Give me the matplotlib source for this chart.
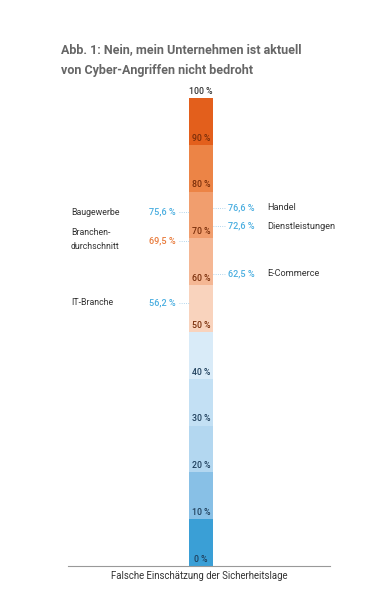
import matplotlib.pyplot as plt

plt.rcParams['font.family'] = ['Roboto', 'DejaVu Sans']

# Balkensegmente (Grenzen in Prozent) und Farben
seg_bottoms = [0, 10, 20, 30, 40, 50, 60, 70, 80, 90]
seg_colors = ['#3a9fd6', '#88c0e6', '#b3d7f0', '#c3e0f4', '#d9ebf8',
              '#f9d3bd', '#f5b794', '#f19e6e', '#ec8446', '#e35f1c']
tick_values = [0, 10, 20, 30, 40, 50, 60, 70, 80, 90, 100]

# Branchenwerte links / rechts
left_labels = ['Baugewerbe', 'Branchen-\ndurchschnitt', 'IT-Branche']
left_values = [75.6, 69.5, 56.2]
left_colors = ['#4aaee0', '#e87a3a', '#4aaee0']
right_labels = ['Handel', 'Dienstleistungen', 'E-Commerce']
right_values = [76.6, 72.6, 62.5]

fig = plt.figure(figsize=(3.82, 5.93), dpi=100)
ax = fig.add_axes([68 / 382, 27 / 593, 262 / 382, 468 / 593])
ax.set_xlim(68, 330)
ax.set_ylim(0, 100)

bar_x, bar_w = 201, 24
for b, c in zip(seg_bottoms, seg_colors):
    ax.bar(bar_x, 10, bottom=b, width=bar_w, color=c, linewidth=0)

for v in tick_values:
    col = '#7a2e0a' if v >= 50 else '#1f3f5c'
    if v == 100:
        col = '#333333'
    ax.text(bar_x, v + 0.45, f'{v} %', ha='center', va='bottom',
            fontsize=6.3, color=col, fontweight='medium', clip_on=False)

for lab, v, c in zip(left_labels, left_values, left_colors):
    ax.plot([179, bar_x - bar_w / 2], [v, v], ls=':', lw=0.6, color='#9cc9e6')
    ax.text(176, v, f'{v:.1f} %'.replace('.', ','), ha='right', va='center',
            fontsize=6.6, color=c, fontweight='medium')
    ax.text(71, v + (0.2 if '\n' in lab else 0), lab, ha='left', va='center',
            fontsize=6.3, color='#333333', linespacing=1.75)

for lab, v in zip(right_labels, right_values):
    ax.plot([bar_x + bar_w / 2, 226], [v, v], ls=':', lw=0.6, color='#9cc9e6')
    ax.text(228, v, f'{v:.1f} %'.replace('.', ','), ha='left', va='center',
            fontsize=6.6, color='#4aaee0', fontweight='medium')
    ax.text(267, v, lab, ha='left', va='center', fontsize=6.6, color='#333333')

for s in ['top', 'left', 'right']:
    ax.spines[s].set_visible(False)
ax.spines['bottom'].set_color('#999999')
ax.spines['bottom'].set_linewidth(0.8)
ax.set_xticks([])
ax.set_yticks([])

ax.text(0.5, -0.01, 'Falsche Einschätzung der Sicherheitslage', transform=ax.transAxes,
        ha='center', va='top', fontsize=6.9, color='#333333')

fig.text(61 / 382, 1 - 60 / 593, 'Abb. 1: Nein, mein Unternehmen ist aktuell\nvon Cyber-Angriffen nicht bedroht',
         ha='left', va='center', fontsize=9, fontweight='bold', color='#666666', linespacing=1.75)

fig.savefig('out.png', dpi=100)
